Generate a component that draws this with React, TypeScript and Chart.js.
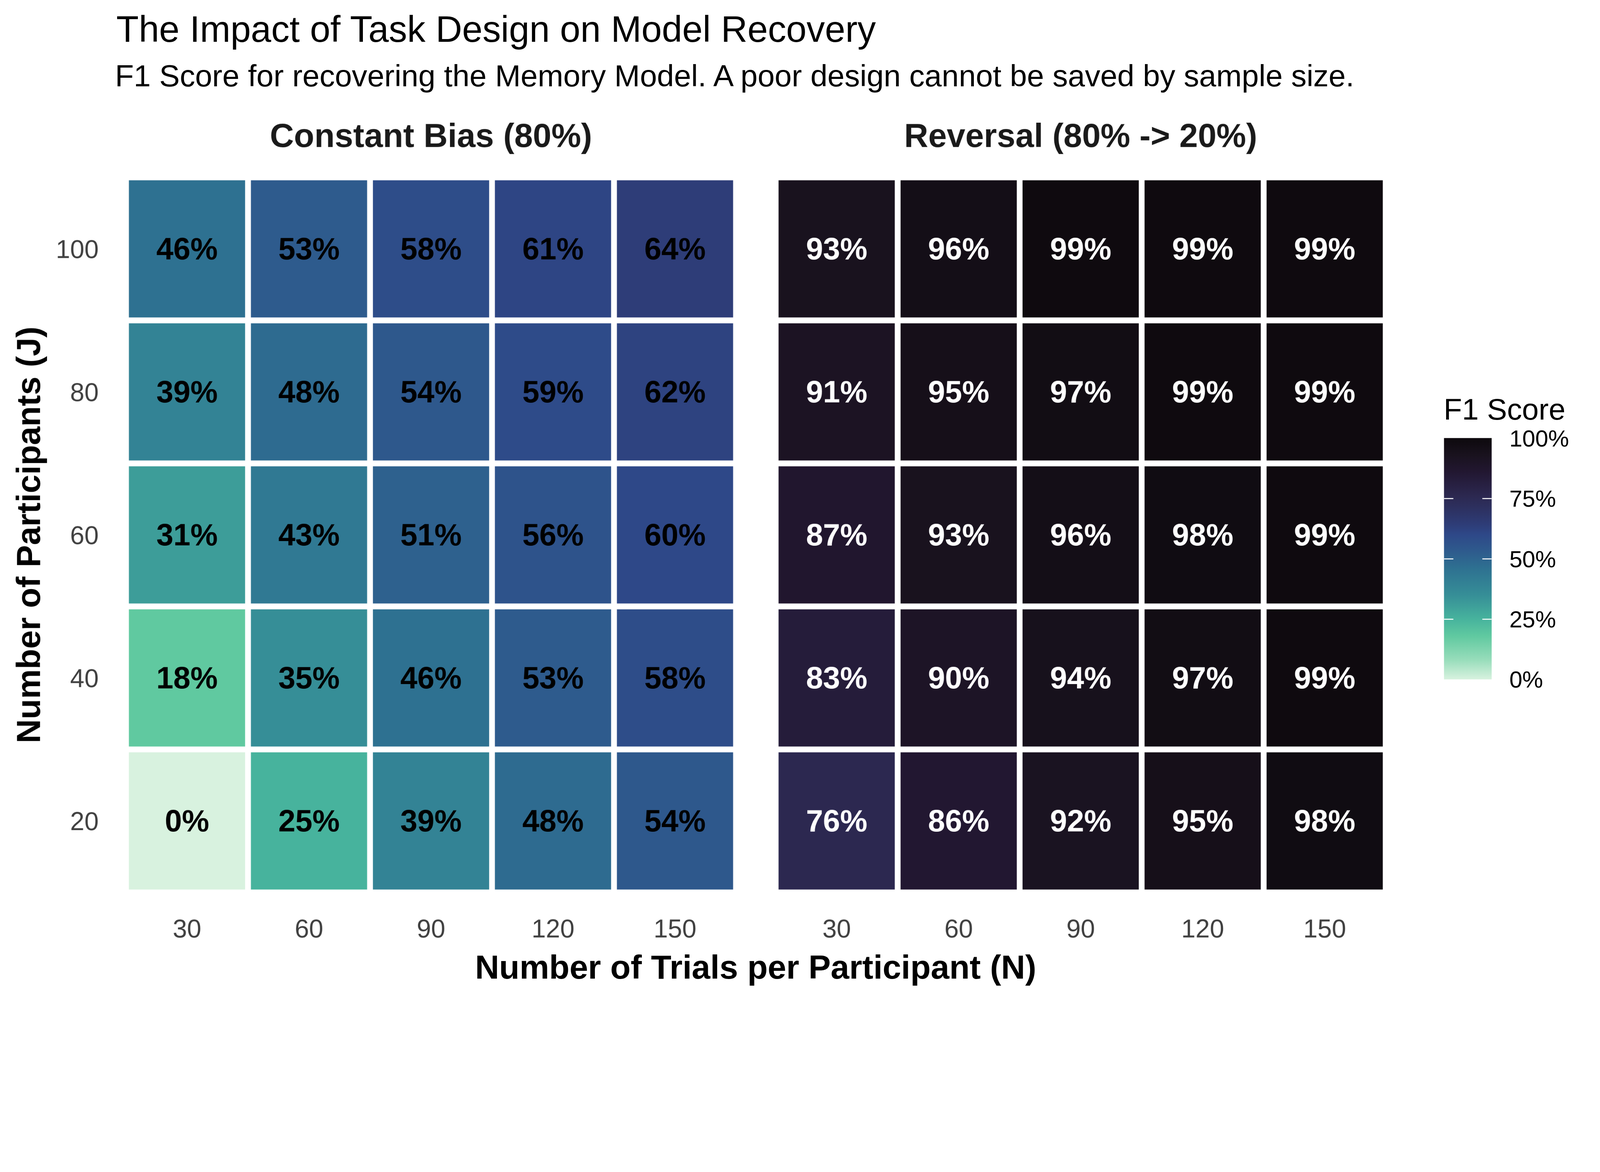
import React, { useEffect, useRef } from "react";
import { Chart, registerables } from "chart.js";

Chart.register(...registerables);

// ---------- data ----------
const TRIALS = [30, 60, 90, 120, 150];
const PARTICIPANTS = [20, 40, 60, 80, 100];

// Constant Bias (80%) — F1 score (%) per row of participants, columns = trials
const CONSTANT_J20 = [0, 25, 39, 48, 54];
const CONSTANT_J40 = [18, 35, 46, 53, 58];
const CONSTANT_J60 = [31, 43, 51, 56, 60];
const CONSTANT_J80 = [39, 48, 54, 59, 62];
const CONSTANT_J100 = [46, 53, 58, 61, 64];

// Reversal (80% -> 20%)
const REVERSAL_J20 = [76, 86, 92, 95, 98];
const REVERSAL_J40 = [83, 90, 94, 97, 99];
const REVERSAL_J60 = [87, 93, 96, 98, 99];
const REVERSAL_J80 = [91, 95, 97, 99, 99];
const REVERSAL_J100 = [93, 96, 99, 99, 99];

const CONSTANT_ROWS = [CONSTANT_J20, CONSTANT_J40, CONSTANT_J60, CONSTANT_J80, CONSTANT_J100];
const REVERSAL_ROWS = [REVERSAL_J20, REVERSAL_J40, REVERSAL_J60, REVERSAL_J80, REVERSAL_J100];

const LEGEND_TICKS = [0, 25, 50, 75, 100];

// ---------- colour scale (mako, reversed) ----------
const COLOR_STOPS: [number, string][] = [
  [0, "#d8f2df"],
  [8, "#98ddbb"],
  [18, "#60c9a0"],
  [25, "#47b39d"],
  [35, "#368e97"],
  [46, "#2e7191"],
  [53, "#2e5b8d"],
  [60, "#2e4888"],
  [64, "#2e3d78"],
  [70, "#2d3263"],
  [76, "#2c2850"],
  [86, "#221731"],
  [93, "#19121e"],
  [100, "#0d090d"],
];

function hexToRgb(h: string) {
  const n = parseInt(h.slice(1), 16);
  return [(n >> 16) & 255, (n >> 8) & 255, n & 255];
}

function colorFor(v: number): string {
  for (let i = 0; i < COLOR_STOPS.length - 1; i++) {
    const [a, ca] = COLOR_STOPS[i];
    const [b, cb] = COLOR_STOPS[i + 1];
    if (v >= a && v <= b) {
      const t = b === a ? 0 : (v - a) / (b - a);
      const A = hexToRgb(ca);
      const B = hexToRgb(cb);
      const c = A.map((x, k) => Math.round(x + (B[k] - x) * t));
      return `rgb(${c[0]},${c[1]},${c[2]})`;
    }
  }
  return COLOR_STOPS[COLOR_STOPS.length - 1][1];
}

const FONT = '"Liberation Sans", Arial, Helvetica, sans-serif';
Chart.defaults.font.family = FONT;

const valueLabels = {
  id: "valueLabels",
  afterDatasetsDraw(chart: any) {
    const ctx = chart.ctx;
    ctx.save();
    ctx.font = `bold 92px ${FONT}`;
    ctx.textAlign = "center";
    ctx.textBaseline = "middle";
    chart.data.datasets.forEach((ds: any, i: number) => {
      const meta = chart.getDatasetMeta(i);
      meta.data.forEach((el: any, j: number) => {
        const v = ds.f1[j];
        const p = el.getCenterPoint();
        ctx.fillStyle = v > 70 ? "#ffffff" : "#000000";
        ctx.fillText(`${v}%`, p.x, p.y + 6);
      });
    });
    ctx.restore();
  },
};

type PanelProps = {
  rows: number[][];
  title: string;
  showY: boolean;
  left: number;
  width: number;
  padL: number;
  padR: number;
};

function Panel({ rows, title, showY, left, width, padL, padR }: PanelProps) {
  const ref = useRef<HTMLCanvasElement | null>(null);
  useEffect(() => {
    if (!ref.current) return;
    const half = (PARTICIPANTS[1] - PARTICIPANTS[0]) / 2;
    const datasets = rows.map((row, r) => ({
      label: `J = ${PARTICIPANTS[r]}`,
      data: row.map(() => [PARTICIPANTS[r] - half, PARTICIPANTS[r] + half]),
      f1: row,
      backgroundColor: row.map(colorFor),
      borderColor: "#ffffff",
      borderWidth: 9,
      borderSkipped: false,
      grouped: false,
      barPercentage: 1,
      categoryPercentage: 1,
    }));
    const chart = new Chart(ref.current, {
      type: "bar",
      data: { labels: TRIALS.map(String), datasets: datasets as any },
      options: {
        responsive: false,
        devicePixelRatio: 1,
        animation: false,
        layout: { padding: { left: padL, right: padR, top: 0, bottom: 0 } },
        plugins: {
          legend: { display: false },
          tooltip: { enabled: false },
          title: {
            display: true,
            text: title,
            color: "#1a1a1a",
            font: { size: 100, weight: "bold" },
            fullSize: false,
            padding: { top: 353, bottom: 59 },
          },
        },
        scales: {
          x: {
            type: "category",
            offset: true,
            grid: { display: false, drawTicks: false },
            border: { display: false },
            ticks: {
              font: { size: 77 },
              color: "#404040",
              padding: 68,
              maxRotation: 0,
              autoSkip: false,
            },
            afterFit: (s: any) => {
              s.height = 323;
            },
          },
          y: {
            type: "linear",
            display: showY,
            min: PARTICIPANTS[0] - half,
            max: PARTICIPANTS[PARTICIPANTS.length - 1] + half,
            afterBuildTicks: (s: any) => {
              s.ticks = PARTICIPANTS.map((v) => ({ value: v }));
            },
            afterFit: (s: any) => {
              if (showY) s.width = 378;
            },
            grid: { display: false, drawTicks: false },
            border: { display: false },
            ticks: { font: { size: 77 }, color: "#404040", padding: 82, labelOffset: 6 },
            title: {
              display: true,
              text: "Number of Participants (J)",
              color: "#000000",
              font: { size: 100, weight: "bold" },
              padding: { top: 32, bottom: 0 },
            },
          },
        },
      } as any,
      plugins: [valueLabels as any],
    });
    return () => chart.destroy();
  }, []);
  return (
    <canvas
      ref={ref}
      width={width}
      height={3000}
      style={{ position: "absolute", left, top: 0, width, height: 3000 }}
    />
  );
}

export default function App() {
  const W = 4800;
  const H = 3000;
  const vw = typeof window !== "undefined" ? window.innerWidth : W;
  const vh = typeof window !== "undefined" ? window.innerHeight : H;
  const s = Math.min(vw / W, vh / H);

  const barTop = 1314;
  const barH = 724;
  const barLeft = 4332;
  const barW = 143;
  const gradient = `linear-gradient(to top, ${COLOR_STOPS.map(
    ([v, c]) => `${c} ${v}%`
  ).join(", ")})`;

  return (
    <div
      style={{
        position: "relative",
        width: W * s,
        height: H * s,
        overflow: "hidden",
        background: "#ffffff",
      }}
    >
      <style>{"html,body{margin:0;padding:0;background:#fff;overflow:hidden;}"}</style>
      <div
        style={{
          position: "absolute",
          left: 0,
          top: 0,
          width: W,
          height: H,
          transform: `scale(${s})`,
          transformOrigin: "0 0",
          background: "#ffffff",
          fontFamily: FONT,
          color: "#000",
        }}
      >
        <div
          style={{
            position: "absolute",
            left: 349,
            top: 32,
            fontSize: 110,
            lineHeight: 1,
            whiteSpace: "nowrap",
          }}
        >
          The Impact of Task Design on Model Recovery
        </div>
        <div
          style={{
            position: "absolute",
            left: 345,
            top: 181,
            fontSize: 92,
            lineHeight: 1,
            whiteSpace: "nowrap",
          }}
        >
          F1 Score for recovering the Memory Model. A poor design cannot be saved by sample size.
        </div>

        <Panel
          rows={CONSTANT_ROWS}
          title="Constant Bias (80%)"
          showY={true}
          left={0}
          width={2260}
          padL={0}
          padR={52}
        />
        <Panel
          rows={REVERSAL_ROWS}
          title="Reversal (80% -> 20%)"
          showY={false}
          left={2300}
          width={1880}
          padL={27}
          padR={23}
        />

        <div
          style={{
            position: "absolute",
            left: 2267,
            top: 2850,
            transform: "translateX(-50%)",
            fontSize: 100,
            fontWeight: "bold",
            lineHeight: 1,
            whiteSpace: "nowrap",
          }}
        >
          Number of Trials per Participant (N)
        </div>

        {/* colour legend */}
        <div
          style={{
            position: "absolute",
            left: 4331,
            top: 1183,
            fontSize: 90,
            lineHeight: 1,
            whiteSpace: "nowrap",
          }}
        >
          F1 Score
        </div>
        <div
          style={{
            position: "absolute",
            left: barLeft,
            top: barTop,
            width: barW,
            height: barH,
            background: gradient,
          }}
        />
        {LEGEND_TICKS.filter((t) => t > 0 && t < 100).map((t) => {
          const y = barTop + barH - (t / 100) * barH;
          return (
            <React.Fragment key={`tk${t}`}>
              <div
                style={{
                  position: "absolute",
                  left: barLeft,
                  top: y - 1.5,
                  width: 28,
                  height: 3,
                  background: "#ffffff",
                }}
              />
              <div
                style={{
                  position: "absolute",
                  left: barLeft + barW - 28,
                  top: y - 1.5,
                  width: 28,
                  height: 3,
                  background: "#ffffff",
                }}
              />
            </React.Fragment>
          );
        })}
        {LEGEND_TICKS.map((t) => {
          const y = barTop + barH - (t / 100) * barH;
          return (
            <div
              key={`lb${t}`}
              style={{
                position: "absolute",
                left: 4528,
                top: y - 34,
                fontSize: 70,
                lineHeight: 1,
                whiteSpace: "nowrap",
              }}
            >
              {`${t}%`}
            </div>
          );
        })}
      </div>
    </div>
  );
}
